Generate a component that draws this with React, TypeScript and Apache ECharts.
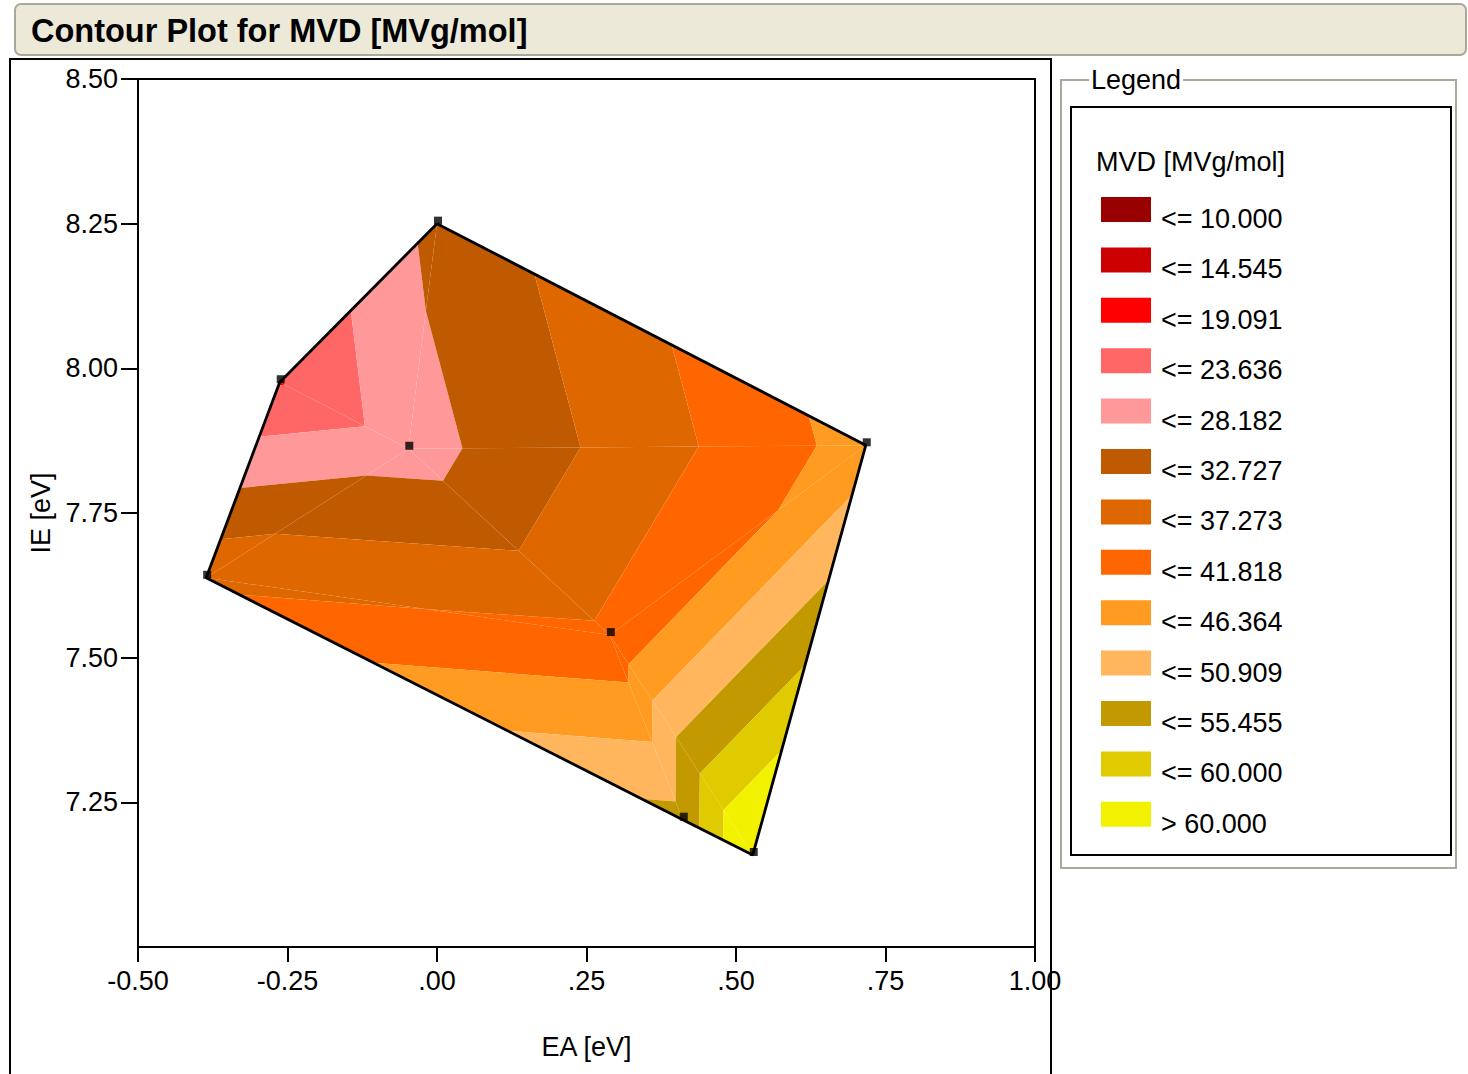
import React, { useEffect, useRef } from "react";
import * as echarts from "echarts";

// Measured points (EA [eV], IE [eV], MVD [MVg/mol])
const pointEA = [0.0, 0.717, 0.528, 0.411, -0.386, -0.263, -0.048, 0.289];
const pointIE = [8.25, 7.867, 7.159, 7.22, 7.638, 7.976, 7.861, 7.539];
const pointMVD = [29.5, 43.7, 65.6, 52.3, 36.15, 18.8, 26.1, 38.2];

// Triangulation of the points (indices into the arrays above)
const triangles = [
  [6, 0, 1],
  [6, 5, 0],
  [6, 4, 5],
  [6, 7, 4],
  [6, 1, 7],
  [7, 1, 2],
  [7, 2, 3],
  [7, 3, 4],
];
const hullOrder = [0, 1, 2, 3, 4, 5, 0];

const levels = [10, 14.545, 19.091, 23.636, 28.182, 32.727, 37.273, 41.818, 46.364, 50.909, 55.455, 60];
const bandLabels = [
  "<= 10.000", "<= 14.545", "<= 19.091", "<= 23.636", "<= 28.182", "<= 32.727", "<= 37.273",
  "<= 41.818", "<= 46.364", "<= 50.909", "<= 55.455", "<= 60.000", "> 60.000",
];
const bandColors = [
  "#990000", "#CC0000", "#FF0000", "#FF6666", "#FF9999", "#BF5A00", "#DE6700",
  "#FF6600", "#FF9B20", "#FFB65C", "#C29A00", "#E0CA00", "#F2F200",
];
const yTickValues = [7.25, 7.5, 7.75, 8.0, 8.25, 8.5];

const FONT = "'Liberation Sans', Arial, sans-serif";

type V = [number, number, number];

function clipPoly(poly: V[], level: number, keepAbove: boolean): V[] {
  const out: V[] = [];
  const n = poly.length;
  for (let i = 0; i < n; i++) {
    const a = poly[i];
    const b = poly[(i + 1) % n];
    const ina = keepAbove ? a[2] >= level : a[2] <= level;
    const inb = keepAbove ? b[2] >= level : b[2] <= level;
    if (ina) out.push(a);
    if (ina !== inb) {
      const t = (level - a[2]) / (b[2] - a[2]);
      out.push([a[0] + t * (b[0] - a[0]), a[1] + t * (b[1] - a[1]), level]);
    }
  }
  return out;
}

function bandPolygons(k: number): V[][] {
  const lo = k === 0 ? -Infinity : levels[k - 1];
  const hi = k === levels.length ? Infinity : levels[k];
  const res: V[][] = [];
  for (const tri of triangles) {
    let poly: V[] = tri.map((i) => [pointEA[i], pointIE[i], pointMVD[i]] as V);
    if (isFinite(lo)) poly = clipPoly(poly, lo, true);
    if (poly.length >= 3 && isFinite(hi)) poly = clipPoly(poly, hi, false);
    if (poly.length >= 3) res.push(poly);
  }
  return res;
}

function fmtX(v: number): string {
  const s = v.toFixed(2);
  if (v >= 0 && v < 1) return s.replace(/^0/, "");
  return s;
}

export default function App() {
  const ref = useRef<HTMLDivElement>(null);

  useEffect(() => {
    if (!ref.current) return;
    const chart = echarts.init(ref.current, null, { renderer: "svg" });

    const bandSeries = bandLabels.map((name, k) => {
      const polys = bandPolygons(k);
      return {
        type: "custom",
        name,
        coordinateSystem: "cartesian2d",
        itemStyle: { color: bandColors[k] },
        silent: true,
        z: 2,
        data: polys.map((p) => [p[0][0], p[0][1]]),
        encode: { x: 0, y: 1 },
        renderItem: (params: any, api: any) => {
          const poly = polys[params.dataIndex];
          return {
            type: "polygon",
            shape: { points: poly.map((p) => api.coord([p[0], p[1]])) },
            style: { fill: bandColors[k], stroke: null },
          };
        },
      };
    });

    const option: any = {
      animation: false,
      backgroundColor: "#ffffff",
      title: {
        text: "Contour Plot for MVD [MVg/mol]",
        left: 31,
        top: 14,
        padding: 0,
        z: 10,
        textStyle: { fontFamily: FONT, fontSize: 32.5, fontWeight: "bold", color: "#000" },
      },
      grid: {
        left: 138,
        top: 79,
        right: 1468 - 1035,
        bottom: 1074 - 947,
        show: true,
        borderColor: "#000",
        borderWidth: 2,
        backgroundColor: "transparent",
      },
      legend: {
        orient: "vertical",
        left: 1101,
        top: 186.5,
        padding: 0,
        itemWidth: 50,
        itemHeight: 25,
        itemGap: 4.4,
        selectedMode: false,
        data: bandLabels.map((name) => ({ name, icon: "rect" })),
        formatter: (name: string) => `{a|${name}}`,
        textStyle: {
          fontFamily: FONT,
          fontSize: 27,
          color: "#000",
          rich: {
            a: {
              fontFamily: FONT,
              fontSize: 27,
              lineHeight: 27,
              color: "#000",
              padding: [19, 0, 0, 5],
            },
          },
        },
      },
      xAxis: {
        type: "value",
        min: -0.5,
        max: 1.0,
        interval: 0.25,
        name: "EA [eV]",
        nameLocation: "middle",
        nameGap: 86,
        nameTextStyle: { fontFamily: FONT, fontSize: 27, color: "#000" },
        axisLine: { show: true, onZero: false, lineStyle: { color: "#000", width: 2 } },
        axisTick: { show: true, length: 15, lineStyle: { color: "#000", width: 2 } },
        axisLabel: {
          margin: 20,
          fontFamily: FONT,
          fontSize: 27,
          color: "#000",
          formatter: (v: number) => fmtX(v),
        },
        splitLine: { show: false },
      },
      yAxis: {
        type: "value",
        min: 7.0,
        max: 8.5,
        interval: 0.25,
        name: "IE [eV]",
        nameLocation: "middle",
        nameGap: 77,
        nameRotate: 90,
        nameTextStyle: { fontFamily: FONT, fontSize: 27, color: "#000" },
        axisLine: { show: true, onZero: false, lineStyle: { color: "#000", width: 2 } },
        axisTick: {
          show: true,
          length: 17,
          lineStyle: { color: "#000", width: 2 },
          customValues: yTickValues,
        },
        axisLabel: {
          margin: 20,
          fontFamily: FONT,
          fontSize: 27,
          color: "#000",
          customValues: yTickValues,
          formatter: (v: number) => v.toFixed(2),
        },
        splitLine: { show: false },
      },
      graphic: [
        {
          type: "rect",
          z: 0,
          shape: { x: 15, y: 4, width: 1451, height: 51, r: 6 },
          style: { fill: "#ECE9D8", stroke: "#ACA899", lineWidth: 2 },
        },
        {
          type: "rect",
          z: 0,
          shape: { x: 10, y: 59, width: 1041, height: 1040 },
          style: { fill: "none", stroke: "#000", lineWidth: 2 },
        },
        {
          type: "rect",
          z: 0,
          shape: { x: 1061, y: 80, width: 395, height: 788 },
          style: { fill: "none", stroke: "#ACA899", lineWidth: 2 },
        },
        {
          type: "text",
          z: 1,
          x: 1089,
          y: 80,
          style: {
            text: "Legend",
            fontFamily: FONT,
            fontSize: 27,
            fill: "#000",
            verticalAlign: "middle",
            backgroundColor: "#fff",
            padding: [0, 2, 0, 2],
          },
        },
        {
          type: "rect",
          z: 0,
          shape: { x: 1071, y: 107, width: 380, height: 748 },
          style: { fill: "none", stroke: "#000", lineWidth: 2 },
        },
        {
          type: "text",
          z: 1,
          x: 1096,
          y: 162,
          style: {
            text: "MVD [MVg/mol]",
            fontFamily: FONT,
            fontSize: 27,
            fill: "#000",
            verticalAlign: "middle",
          },
        },
      ],
      series: [
        ...bandSeries,
        {
          type: "line",
          name: "hull",
          z: 4,
          silent: true,
          symbol: "none",
          lineStyle: { color: "#000", width: 2.8 },
          data: hullOrder.map((i) => [pointEA[i], pointIE[i]]),
        },
        {
          type: "scatter",
          name: "points",
          z: 5,
          silent: true,
          symbol: "rect",
          symbolSize: 8,
          symbolOffset: [1, -3],
          itemStyle: { color: "#000" },
          data: pointEA.map((x, i) => [x, pointIE[i]]),
        },
      ],
    };

    chart.setOption(option);
    return () => {
      chart.dispose();
    };
  }, []);

  return (
    <div
      ref={ref}
      style={{ position: "fixed", left: 0, top: 0, width: 1468, height: 1074 }}
    />
  );
}
